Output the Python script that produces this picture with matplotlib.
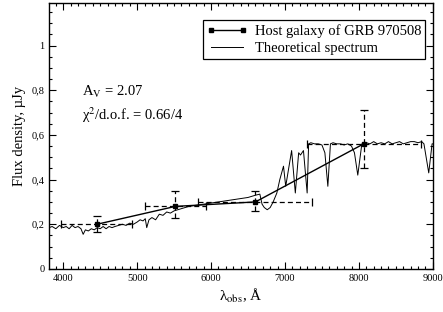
import numpy as np
import matplotlib
matplotlib.use("Agg")
import matplotlib.pyplot as plt
from matplotlib.ticker import MultipleLocator, FuncFormatter

plt.rcParams["font.family"] = ["Liberation Serif", "DejaVu Serif"]
plt.rcParams["mathtext.fontset"] = "stix"

# Photometric points of the host galaxy
wave_obs = [4456, 5517, 6600, 8065]
flux_obs = [0.20, 0.28, 0.30, 0.56]
xerr_lo = [480, 410, 770, 770]
xerr_hi = [480, 410, 770, 770]
yerr_lo = [0.033, 0.05, 0.04, 0.11]
yerr_hi = [0.038, 0.07, 0.05, 0.15]

# Theoretical spectrum
wave_th = [3810, 3850, 3900, 3950, 4000, 4040, 4080, 4120, 4160, 4200,
           4240, 4270, 4300, 4340, 4380, 4420, 4460, 4500, 4540, 4580,
           4620, 4660, 4700, 4750, 4800, 4850, 4900, 4950, 5000, 5040,
           5080, 5110, 5130, 5160, 5200, 5250, 5300, 5350, 5400, 5450,
           5500, 5600, 5700, 5800, 5900, 6000, 6100, 6200, 6300, 6400,
           6500, 6600, 6660, 6690, 6720, 6760, 6800, 6840, 6890, 6930,
           6980, 7010, 7040, 7090, 7140, 7185, 7210, 7250, 7300, 7320,
           7350, 7400, 7450, 7500, 7540, 7580, 7615, 7650, 7700, 7750,
           7800, 7850, 7900, 7940, 7985, 8040, 8100, 8150, 8200, 8250,
           8300, 8350, 8400, 8450, 8500, 8550, 8600, 8650, 8700, 8750,
           8800, 8850, 8880, 8945, 8990, 9000]
flux_th = [0.185, 0.19, 0.18, 0.195, 0.185, 0.19, 0.18, 0.195, 0.185, 0.19,
           0.18, 0.155, 0.175, 0.17, 0.18, 0.175, 0.185, 0.18, 0.19, 0.18,
           0.19, 0.185, 0.19, 0.195, 0.2, 0.195, 0.205, 0.2, 0.21, 0.22,
           0.215, 0.225, 0.185, 0.22, 0.23, 0.22, 0.245, 0.24, 0.255, 0.25,
           0.26, 0.27, 0.28, 0.285, 0.29, 0.295, 0.30, 0.305, 0.31, 0.315,
           0.32, 0.33, 0.335, 0.29, 0.275, 0.265, 0.275, 0.30, 0.34, 0.40,
           0.46, 0.37, 0.43, 0.53, 0.34, 0.52, 0.51, 0.53, 0.34, 0.56,
           0.565, 0.56, 0.56, 0.555, 0.52, 0.37, 0.56, 0.565, 0.56, 0.56,
           0.555, 0.56, 0.55, 0.52, 0.42, 0.56, 0.565, 0.56, 0.57, 0.56,
           0.565, 0.56, 0.57, 0.56, 0.565, 0.57, 0.56, 0.565, 0.57, 0.57,
           0.565, 0.57, 0.56, 0.43, 0.56, 0.56]


def comma_fmt(v, pos):
    if abs(v - round(v)) < 1e-9:
        return f"{int(round(v))}"
    return f"{v:.1f}".replace(".", ",")


def main():
    fig = plt.figure(figsize=(4.43, 3.12), dpi=100)
    ax = fig.add_axes([0.111, 0.138, 0.866, 0.852])

    ax.plot(wave_th, flux_th, color="black", linewidth=0.7,
            label="Theoretical spectrum")

    eb = ax.errorbar(wave_obs, flux_obs, xerr=[xerr_lo, xerr_hi],
                     yerr=[yerr_lo, yerr_hi], fmt="none", ecolor="black",
                     elinewidth=0.9, capsize=3, capthick=0.9)
    for lc in eb[2]:
        lc.set_linestyle((0, (4, 2.5)))

    ax.plot(wave_obs, flux_obs, color="black", linewidth=1.0, marker="s",
            markersize=3.5, label="Host galaxy of GRB 970508")

    ax.set_xlim(3810, 9000)
    ax.set_ylim(0, 1.19)
    ax.xaxis.set_major_locator(MultipleLocator(1000))
    ax.xaxis.set_minor_locator(MultipleLocator(100))
    ax.yaxis.set_major_locator(MultipleLocator(0.2))
    ax.yaxis.set_minor_locator(MultipleLocator(0.05))
    ax.yaxis.set_major_formatter(FuncFormatter(comma_fmt))
    ax.tick_params(which="both", direction="in", top=True, right=True,
                   labelsize=7.5, width=0.8)
    ax.tick_params(which="major", length=5)
    ax.tick_params(which="minor", length=2.5)
    for sp in ax.spines.values():
        sp.set_linewidth(1.0)

    ax.set_xlabel("λ$_{\\rm obs}$, Å", fontsize=11, labelpad=3)
    ax.set_ylabel("Flux density, µJy", fontsize=10.5, labelpad=4)

    ax.text(4250, 0.775, r"A$_{\rm V}$ = 2.07", fontsize=10.5)
    ax.text(4250, 0.665, "χ$^2$/d.o.f. = 0.66/4", fontsize=10.5)

    handles, labels = ax.get_legend_handles_labels()
    leg = ax.legend(handles[::-1], labels[::-1], loc="upper right",
                    bbox_to_anchor=(0.98, 0.935), fontsize=10.5,
                    frameon=True, fancybox=False, edgecolor="black",
                    framealpha=1, handlelength=2.8, borderpad=0.25,
                    labelspacing=0.3, handletextpad=0.5, borderaxespad=0,
                    numpoints=2)
    leg.get_frame().set_linewidth(0.9)

    fig.savefig("out.png", dpi=100)


if __name__ == "__main__":
    main()
